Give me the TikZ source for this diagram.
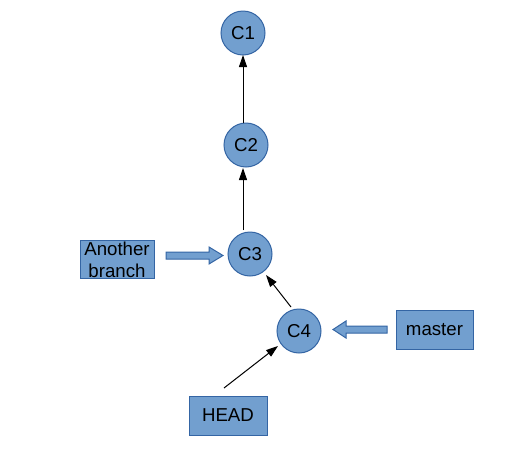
\documentclass[tikz,border=0pt]{standalone}
\usepackage{fontspec}
\setmainfont{Liberation Sans}
\usetikzlibrary{arrows.meta}
\definecolor{fillb}{HTML}{729FCF}
\definecolor{lineb}{HTML}{3465A4}
\begin{document}
\begin{tikzpicture}[x=0.75pt,y=-0.75pt,
  every node/.style={font=\fontsize{14pt}{16.5pt}\selectfont},
  commit/.style={circle,draw=lineb,fill=fillb,line width=0.75pt,minimum size=33pt,inner sep=0pt},
  label box/.style={rectangle,draw=lineb,fill=fillb,line width=0.75pt,inner sep=0pt,align=center},
  link/.style={draw=black,line width=0.75pt,-{Triangle[length=9pt,width=6pt]}},
  block/.style={draw=lineb,fill=fillb,line width=0.75pt}]
\useasboundingbox (0,0) rectangle (515,454);
\node[commit] (c1) at (243,33) {C1};
\node[commit] (c2) at (246,145) {C2};
\node[commit] (c3) at (250,254) {C3};
\node[commit] (c4) at (299,331) {C4};
\node[label box,minimum width=55.5pt,minimum height=29pt] (ab) at (117,259.5) {Another\\branch};
\node[label box,minimum width=57.75pt,minimum height=29.25pt] (master) at (434.5,329.5) {master};
\node[label box,minimum width=58.5pt,minimum height=29.25pt] (head) at (228,415.5) {HEAD};
\coordinate (c2top) at (243,123);
\coordinate (c1bot) at (243,55);
\coordinate (c3top) at (243,230);
\coordinate (c2bot) at (243,168);
\coordinate (c4tl) at (291,307);
\coordinate (c3br) at (266,275);
\coordinate (headtop) at (224,388);
\coordinate (c4bl) at (278,346);
\draw[link] (c2top) -- (c1bot);
\draw[link] (c3top) -- (c2bot);
\draw[link] (c4tl) -- (c3br);
\draw[link] (headtop) -- (c4bl);
% block arrow from "Another branch" to C3
\draw[block] (166,252) -- (209,252) -- (209,247) -- (223,255.5) -- (209,264) -- (209,259) -- (166,259) -- cycle;
% block arrow from master to C4
\draw[block] (387,326) -- (346,326) -- (346,321) -- (333,329.5) -- (346,338) -- (346,333) -- (387,333) -- cycle;
\end{tikzpicture}
\end{document}
